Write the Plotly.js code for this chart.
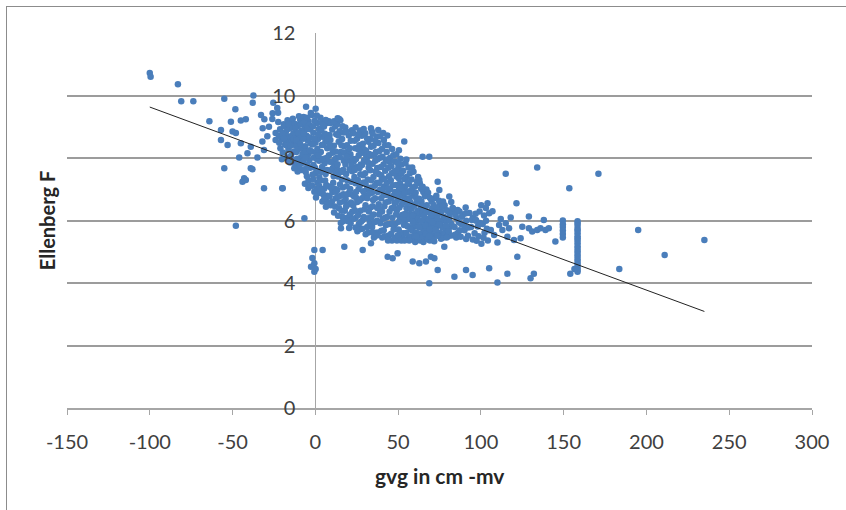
<!DOCTYPE html>
<html>
<head>
<meta charset="utf-8">
<script src="https://cdn.plot.ly/plotly-3.0.1.min.js"></script>
<style>
html,body{margin:0;padding:0;background:#fff;overflow:hidden;}
#wrap{position:relative;width:846px;height:510px;overflow:hidden;}
#chart{position:absolute;left:0;top:0;width:846px;height:510px;}
#frame{position:absolute;left:6px;top:6px;width:900px;height:600px;border-left:1.5px solid #8c8c8c;border-top:1.5px solid #8c8c8c;pointer-events:none;}
</style>
</head>
<body>
<div id="wrap"><div id="chart"></div><div id="frame"></div></div>
<script>
// ---- data ----
const xTickVals = [-150, -100, -50, 0, 50, 100, 150, 200, 250, 300];
const xTickText = ['-150', '-100', '-50', '0', '50', '100', '150', '200', '250', '300'];
const yTickVals = [0, 2, 4, 6, 8, 10, 12];
const yTickText = ['0', '2', '4', '6', '8', '10', '12'];
const xTitle = 'gvg in cm -mv';
const yTitle = 'Ellenberg F';

// [gvg, Ellenberg F]
const leftOutliers = [[-100,10.72],[-99.5,10.6],[-83,10.36],[-81,9.82],[-73.7,9.82],[-55,9.9],[-37.4,10.0],[-37.8,9.77],[-25.4,9.77],[-48.3,9.56],[-64,9.18],[-51,9.16],[-45,9.2],[-42,9.24],[-32.8,9.38],[-30.8,9.24],[-25.8,9.43],[-57,8.9],[-50,8.85],[-48,8.8],[-31.8,8.95],[-57,8.58],[-53,8.42],[-45,8.47],[-39,8.36],[-32,8.53],[-31,8.26],[-24,8.58],[-46,8.02],[-41,8.15],[-35,8.02],[-55,7.67],[-38,7.64],[-43,7.35],[-44,7.24],[-42,7.3],[-31,7.03],[-20,7.03],[-48,5.83],[-39,7.67],[-28,9.0],[-24,8.8],[-22.5,9.45],[-26,9.25],[-29,8.7],[-23,9.6]];

const coreCloud = [
[-21.3,8.92],[-19.1,9.08],[-20.4,8.61],[-18.2,8.43],[-22.0,8.71],[-19.6,8.18],[-17.8,8.83],[-21.1,8.31],[-18.6,9.02],[-20.2,7.96],[-22.4,9.15],[-17.9,8.55],
[-16.8,9.21],[-15.9,8.94],[-14.2,9.12],[-15.3,8.58],[-13.1,8.79],[-16.2,8.27],[-14.4,8.49],[-17.1,8.02],[-12.9,8.21],[-15.2,7.86],[-13.6,9.26],[-16.6,8.68],[-14.7,8.07],[-12.7,8.44],[-13.9,8.98],[-17.3,8.4],
[-12.2,9.09],[-11.1,8.77],[-9.2,9.23],[-10.3,8.52],[-8.1,8.88],[-11.4,8.19],[-9.3,7.99],[-12.1,7.81],[-8.2,7.62],[-10.1,7.91],[-9.6,8.66],[-11.7,8.39],[-8.6,8.31],[-10.7,9.02],[-7.8,8.13],[-12.4,8.58],[-9.9,9.34],
[-7.1,9.31],[-6.2,9.02],[-4.1,9.18],[-5.3,8.71],[-3.2,8.92],[-6.1,8.38],[-4.3,8.11],[-7.2,7.88],[-3.1,7.69],[-5.1,7.42],[-6.3,7.18],[-4.2,7.04],[-2.9,8.47],[-5.6,8.21],[-2.7,9.44],[-6.6,7.64],[-4.6,8.56],[-3.6,7.93],[-7.3,8.62],
[-2.1,9.38],[0.2,9.58],[1.1,9.12],[-1.2,8.81],[2.1,8.93],[0.1,8.49],[-2.2,8.21],[1.2,8.29],[2.3,7.91],[-1.1,7.78],[0.3,7.52],[1.3,7.21],[-1.9,7.11],[2.2,6.88],[0.4,6.74],[-0.8,8.02],[1.6,8.61],[-0.4,9.19],[2.4,7.38],[-1.6,7.47],[0.8,7.97],
[3.1,9.29],[5.2,9.01],[7.1,9.12],[4.2,8.68],[6.1,8.52],[3.3,8.19],[5.1,7.98],[7.2,8.31],[4.1,7.71],[6.2,7.49],[3.2,7.28],[5.3,7.02],[7.3,6.79],[4.3,6.61],[6.4,6.44],[5.6,7.83],[3.6,8.88],[6.6,7.14],[4.8,8.42],[7.0,7.62],
[8.1,9.18],[10.2,8.91],[12.1,9.02],[9.1,8.58],[11.2,8.39],[8.2,8.09],[10.1,7.88],[12.2,8.21],[9.2,7.61],[11.1,7.42],[8.3,7.09],[10.3,6.91],[12.3,6.71],[9.3,6.49],[11.3,6.26],[10.6,7.68],[8.6,8.74],[11.6,7.02],[9.8,8.33],[12.4,7.53],
[13.2,9.09],[15.1,9.21],[17.1,8.82],[14.1,8.52],[16.2,8.61],[13.1,8.01],[15.2,8.19],[17.2,7.91],[14.2,7.59],[16.1,7.31],[13.3,6.98],[15.3,6.79],[17.3,6.61],[14.3,6.39],[16.3,6.12],[15.4,5.92],[13.6,7.41],[16.6,7.06],[14.6,8.86],[12.9,7.72],[17.4,8.38],
[18.1,8.98],[20.2,8.72],[22.1,8.89],[19.1,8.41],[21.2,8.12],[18.2,7.79],[20.1,7.92],[22.2,7.58],[19.2,7.29],[21.1,7.01],[18.3,6.69],[20.3,6.52],[22.3,6.28],[19.3,6.09],[21.3,5.91],[20.4,5.76],[18.6,7.49],[21.6,6.84],[19.6,8.21],[22.4,7.98],[17.8,6.31],
[23.1,8.79],[25.2,8.62],[27.1,8.88],[24.1,8.31],[26.2,8.09],[23.2,7.89],[25.1,7.71],[27.2,7.48],[24.2,7.19],[26.1,7.01],[23.3,6.78],[25.3,6.59],[27.3,6.31],[24.3,6.08],[26.3,5.89],[25.4,5.66],[23.6,7.39],[26.6,8.41],[24.6,6.91],[27.4,7.79],[22.9,6.48],
[28.1,8.71],[30.2,8.79],[32.1,8.52],[29.1,8.29],[31.2,8.01],[28.2,7.78],[30.1,7.51],[32.2,7.69],[29.2,7.22],[31.1,6.99],[28.3,6.71],[30.3,6.49],[32.3,6.29],[29.3,6.11],[31.3,5.79],[30.4,5.56],[28.6,6.02],[31.6,7.31],[30.6,8.24],[32.4,7.02],[29.7,6.82],
[33.1,8.61],[35.2,8.39],[37.1,8.69],[34.1,8.09],[36.2,7.91],[33.2,7.61],[35.1,7.39],[37.2,7.21],[34.2,6.89],[36.1,6.71],[33.3,6.42],[35.3,6.19],[37.3,5.99],[34.3,5.79],[36.3,5.61],[35.4,5.46],[33.6,7.06],[36.6,8.19],[34.6,6.46],[37.4,7.68],[32.9,5.92],
[38.1,8.48],[40.2,8.29],[42.1,8.41],[39.1,8.01],[41.2,7.79],[38.2,7.49],[40.1,7.31],[42.2,7.59],[39.2,6.99],[41.1,6.81],[38.3,6.52],[40.3,6.29],[42.3,6.09],[39.3,5.91],[41.3,5.69],[40.4,5.46],[38.6,6.19],[41.6,7.09],[39.6,7.71],[42.4,6.58],[37.9,5.62],
[43.1,8.19],[45.2,8.01],[47.1,8.09],[44.1,7.69],[46.2,7.51],[43.2,7.21],[45.1,6.99],[47.2,6.79],[44.2,6.61],[46.1,6.39],[43.3,6.11],[45.3,5.89],[47.3,5.71],[44.3,5.52],[46.3,5.36],[45.6,7.29],[43.6,6.86],[46.6,6.09],[44.7,7.88],[47.4,6.42],
[48.1,7.89],[50.2,7.71],[52.1,7.79],[49.1,7.41],[51.2,7.19],[48.2,6.91],[50.1,6.69],[52.2,6.51],[49.2,6.31],[51.1,6.09],[48.3,5.89],[50.3,5.71],[52.3,5.49],[49.3,5.36],[51.3,5.61],[50.6,6.99],[48.6,6.58],[51.6,6.86],[49.8,7.58],[52.4,6.18],
[53.1,7.59],[55.2,7.39],[57.1,7.51],[54.1,7.09],[56.2,6.91],[53.2,6.61],[55.1,6.39],[57.2,6.21],[54.2,5.99],[56.1,5.81],[53.3,5.59],[55.3,5.41],[57.3,5.49],[54.6,6.71],[56.6,7.16],[53.6,5.86],[55.8,6.04],[57.4,6.58],
[58.1,7.31],[60.2,7.09],[62.1,7.39],[59.1,6.81],[61.2,6.59],[58.2,6.39],[60.1,6.21],[62.2,5.99],[59.2,5.79],[61.1,5.61],[58.3,5.41],[60.3,5.31],[62.3,5.52],[60.6,6.89],[59.6,6.02],[61.7,6.31],[58.7,5.68],
[63.1,7.19],[65.2,6.91],[67.1,6.99],[64.1,6.61],[66.2,6.41],[63.2,6.19],[65.1,5.99],[67.2,5.79],[64.2,5.59],[66.1,5.41],[63.3,5.36],[67.3,6.49],[65.6,5.69],[64.6,6.26],[66.7,6.05],[63.7,5.82],
[68.1,6.89],[70.2,6.61],[72.1,6.71],[69.1,6.29],[71.2,6.09],[68.2,5.89],[70.1,5.69],[72.2,5.51],[69.2,5.36],[71.1,5.79],[70.6,6.39],[68.6,6.05],[72.4,5.96],[69.7,5.58],
[73.1,6.79],[75.2,6.49],[77.1,6.61],[74.1,6.19],[76.2,5.99],[73.2,5.79],[75.1,5.61],[77.2,5.46],[74.3,5.51],[76.1,6.29],[75.6,5.86],[73.6,6.41],
[78.1,6.49],[80.2,6.29],[82.1,6.59],[79.1,5.99],[81.2,5.79],[78.2,5.61],[80.1,5.49],[82.2,5.89],[81.1,6.14],[79.6,5.72],
[83.1,6.39],[85.2,6.09],[87.1,6.29],[84.1,5.79],[86.2,5.61],[88.1,5.89],[85.1,5.46],[87.2,5.69],
[89.1,6.19],[91.2,5.99],[93.1,6.24],[90.1,5.69],[92.2,5.51],[94.1,5.79],[91.1,5.41],
[95.2,6.09],[97.1,5.99],[96.2,5.59],[98.1,5.81],[95.1,5.39],[99.2,6.29],
[100.2,6.49],[101.1,5.89],[102.2,5.61],[103.1,5.99],[104.2,5.36],[105.1,5.69],[100.3,5.26]
];

const coreCloudB = [
[-19.9,8.78],[-21.8,8.49],[-18.9,8.63],[-16.1,9.08],[-15.1,8.39],[-14.1,8.72],[-16.4,7.98],[-13.3,8.62],
[-11.9,8.96],[-10.1,8.81],[-8.9,9.08],[-11.3,8.58],[-9.1,8.45],[-10.6,8.27],[-8.4,7.83],[-11.2,7.97],[-9.8,7.72],
[-6.8,9.16],[-5.1,9.29],[-3.8,9.06],[-6.9,8.79],[-4.9,8.93],[-3.4,8.66],[-6.1,8.02],[-4.8,7.78],[-3.3,8.25],[-5.8,7.55],[-4.1,7.29],[-2.8,7.12],
[-1.4,9.02],[0.9,9.36],[1.8,8.76],[-0.7,8.62],[-1.8,8.43],[0.6,8.17],[1.9,8.09],[-0.2,7.69],[1.7,7.58],[-1.3,7.31],[0.7,7.01],[-0.6,6.92],[2.4,7.1],
[3.8,9.12],[6.3,9.22],[4.6,9.06],[5.8,8.78],[7.3,8.63],[3.9,8.42],[6.8,8.0],[4.4,7.96],[5.9,7.28],[3.6,7.55],[4.7,6.84],[6.9,6.6],[5.4,6.7],[3.5,6.98],
[9.1,9.12],[11.3,9.18],[12.6,8.76],[8.7,8.42],[10.4,8.17],[12.0,7.97],[11.8,7.78],[8.9,7.88],[10.8,7.21],[9.6,7.04],[12.1,6.92],[8.6,6.78],[10.1,6.61],[11.9,6.45],
[14.4,9.25],[16.4,9.02],[13.9,8.72],[15.8,8.41],[17.0,8.18],[14.8,8.03],[16.8,7.62],[13.4,7.8],[15.6,7.55],[14.9,7.15],[13.8,6.76],[16.9,6.84],[14.8,6.58],[15.9,6.31],[13.7,6.15],[16.8,5.98],
[18.9,8.84],[21.4,8.55],[20.8,8.31],[18.7,8.04],[21.9,7.78],[20.7,7.64],[18.9,7.1],[21.8,7.24],[20.6,6.91],[19.2,6.84],[21.6,6.58],[18.6,6.45],[20.9,6.19],[22.6,6.05],[19.8,5.98],
[24.3,8.98],[26.2,8.76],[23.7,8.55],[25.9,8.28],[27.6,8.16],[24.6,7.97],[26.7,7.68],[23.8,7.62],[25.7,7.3],[27.1,7.14],[24.8,6.72],[26.8,6.64],[23.9,6.33],[25.8,6.18],[27.6,5.96],[24.2,5.78],[26.9,5.72],
[29.2,8.93],[31.3,8.62],[28.7,8.46],[30.7,8.08],[32.6,8.13],[29.4,7.92],[31.8,7.86],[28.8,7.45],[30.4,7.17],[32.7,6.86],[28.9,6.94],[31.4,6.71],[29.8,6.36],[31.8,6.07],[28.6,5.74],[32.1,5.62],
[34.2,8.85],[36.1,8.57],[33.7,8.36],[35.8,8.11],[37.6,7.96],[34.6,7.82],[36.4,7.57],[33.8,7.29],[35.9,7.11],[37.7,6.91],[34.9,6.66],[37.4,6.4],[33.9,6.11],[36.0,5.95],[34.8,5.62],[37.1,5.52],
[39.2,8.7],[41.4,8.58],[38.6,8.22],[40.6,8.04],[42.6,7.92],[39.8,7.45],[41.8,7.34],[38.7,7.2],[40.7,6.98],[42.7,6.82],[39.7,6.71],[41.7,6.46],[38.9,6.35],[40.8,6.06],[42.6,5.86],[39.9,5.67],[41.9,5.5],
[44.1,8.41],[46.4,8.29],[43.7,7.95],[45.9,7.74],[47.6,7.55],[44.5,7.42],[46.8,7.13],[43.9,7.03],[45.7,6.72],[47.8,6.58],[44.8,6.28],[43.6,5.88],[46.9,5.9],[45.8,5.58],[47.8,5.45],[43.9,5.36],
[48.9,8.12],[51.4,7.98],[49.6,7.85],[48.7,7.6],[51.9,7.5],[50.4,7.35],[48.9,7.14],[51.8,7.04],[49.7,6.84],[52.7,6.79],[50.8,6.42],[48.8,6.19],[52.6,6.03],[50.4,5.96],[49.9,5.53],[51.9,5.36],
[54.4,7.83],[56.3,7.7],[53.8,7.33],[55.9,7.22],[57.6,6.95],[54.9,6.94],[56.9,6.71],[53.8,6.88],[55.6,6.55],[57.7,6.38],[54.7,6.22],[56.7,6.13],[53.7,6.2],[55.7,5.82],[57.6,5.71],[54.9,5.6],[56.7,5.36],[53.9,5.36],
[59.3,7.56],[61.4,7.25],[58.8,7.05],[60.9,6.72],[62.6,6.7],[59.9,6.49],[61.8,6.05],[58.6,6.15],[60.6,5.86],[62.6,5.78],[59.8,5.52],[61.6,5.38],[58.9,5.95],[60.9,5.5],
[63.9,7.02],[66.1,6.78],[64.8,6.48],[66.9,6.26],[63.7,6.43],[65.6,6.15],[63.8,5.99],[66.6,5.83],[64.7,5.45],[66.8,5.58],[65.3,5.31],[67.6,5.4],
[69.3,6.72],[71.5,6.5],[69.9,6.16],[72.6,6.25],[68.9,5.72],[70.9,5.95],[71.8,5.34],[70.4,5.41],[72.7,5.7],[68.7,5.5],
[74.7,6.63],[76.7,6.46],[73.9,6.05],[76.8,5.78],[74.8,5.88],[77.6,6.12],[75.9,5.42],[73.7,5.52],
[79.4,6.33],[80.9,6.02],[78.9,5.84],[82.7,6.28],[80.6,5.65],[82.4,5.52],[79.3,5.46],
[84.6,6.2],[86.6,5.95],[88.6,6.12],[84.7,5.55],[87.8,5.48],[89.7,5.85],[90.8,6.42],[92.6,5.78],
[94.6,6.02],[96.8,6.22],[98.6,5.5],[99.4,5.92],[97.4,5.35],[101.9,6.16],[103.6,5.74],[101.6,5.45]
];

const coreFringe = [[62.8,7.3],[64.8,7.08],[73.9,7.24],[74.9,6.98],[80.9,6.77],[82.9,6.4],[86,6.34],[91,6.23],[97,6.02],[103,6.4],[104,6.55],[105,6.23],[53.7,8.53],[64.8,8.04],[68.8,8.04],[33.6,8.95],[34.6,8.78],[13.5,9.27],[-5.6,9.64],[41,8.8],[43.5,8.72],[38,8.9],[50.5,8.25],[55,7.95],[58.5,7.7],[-19.7,7.03],[-10.7,7.57],[-12.7,7.67],[-6.6,6.07],[15.5,5.75],[17.5,5.16],[28.6,5.06],[33.6,5.27]];

const lowerScatter = [[-0.6,5.06],[4.4,5.06],[-1.8,4.8],[-0.6,4.63],[-2.6,4.52],[-0.6,4.36],[0.2,4.45],[43.7,4.84],[46.7,4.79],[49.7,4.95],[58.8,4.69],[62.8,4.63],[66.8,4.69],[69.8,4.84],[71.9,4.79],[73.9,4.42],[68.8,3.99],[77.9,5.16],[84,4.2],[91,4.42],[95,4.26],[105,4.47],[110,4.02],[116,4.3],[122,4.84],[130,4.15],[132,4.3],[154,4.3],[183.6,4.45],[211,4.9],[195,5.7],[235,5.38]];

const rightTail = [[115,7.5],[134,7.7],[171,7.5],[153.4,7.03],[121.5,6.55],[106,5.7],[108,5.54],[111,5.86],[113,5.7],[115,5.91],[116,5.48],[117,5.75],[120,5.38],[124,5.43],[125,5.8],[129,6.13],[129,5.75],[131,5.65],[134,5.7],[136,5.75],[138,6.02],[139,5.7],[141,5.75],[145,5.33],[149.5,6.0],[149.5,5.88],[149.5,5.79],[149.5,5.68],[149.5,5.57],[149.5,5.46],[110,5.3],[112,6.05],[118,6.1],[107,6.3]];

const column158 = [[158.4,5.98],[158.4,5.91],[158.4,5.83],[158.4,5.74],[158.4,5.68],[158.4,5.59],[158.4,5.5],[158.4,5.43],[158.4,5.36],[158.4,5.27],[158.4,5.18],[158.4,5.1],[158.4,5.02],[158.4,4.93],[158.4,4.85],[158.4,4.76],[158.4,4.68],[158.4,4.6],[158.4,4.5],[158.4,4.42],[158.4,4.36],[156.5,4.45]];

// linear trendline end points
const trendGvg = [-100, 235];
const trendF = [9.63, 3.09];

// ---- build ----
const allObs = [].concat(leftOutliers, coreCloud, coreCloudB, coreFringe, lowerScatter, rightTail, column158);
const obsX = allObs.map(p => p[0]);
const obsY = allObs.map(p => p[1]);

const FONT = 'Lato, Carlito, "Liberation Sans", sans-serif';

const traces = [
  {
    type: 'scatter', mode: 'markers', x: obsX, y: obsY,
    marker: {color: '#4a7ebb', size: 6.5, symbol: 'circle', line: {width: 0}},
    hoverinfo: 'x+y', showlegend: false
  },
  {
    type: 'scatter', mode: 'lines', x: trendGvg, y: trendF,
    line: {color: '#222222', width: 1}, hoverinfo: 'skip', showlegend: false
  }
];

const layout = {
  width: 846, height: 510,
  margin: {l: 67, r: 34, t: 33, b: 102},
  paper_bgcolor: '#ffffff', plot_bgcolor: '#ffffff',
  font: {family: FONT, color: '#404040'},
  showlegend: false,
  xaxis: {
    range: [-150, 300], tickmode: 'array', tickvals: xTickVals, ticktext: xTickText,
    showgrid: false, zeroline: true, zerolinecolor: '#a6a6a6', zerolinewidth: 1,
    showline: true, linecolor: '#a6a6a6', linewidth: 1.5,
    ticks: 'outside', ticklen: 5, tickcolor: '#a6a6a6', tickwidth: 1,
    ticklabelstandoff: 10,
    tickfont: {family: FONT, size: 20, color: '#404040'},
    fixedrange: true
  },
  yaxis: {
    range: [0, 12], tickmode: 'array', tickvals: yTickVals, ticktext: yTickText,
    anchor: 'free', position: 150 / 450,
    showgrid: true, gridcolor: '#9c9c9c', gridwidth: 2,
    zeroline: false, showline: false, ticks: '',
    ticklabelstandoff: 20,
    tickfont: {family: FONT, size: 20, color: '#404040'},
    fixedrange: true
  },
  annotations: [
    {text: '<b>' + yTitle + '</b>', xref: 'paper', yref: 'paper', x: -0.0272, y: 0.5,
     textangle: -90, showarrow: false, xanchor: 'center', yanchor: 'middle',
     font: {family: FONT, size: 20, color: '#262626'}},
    {text: '<b>' + xTitle + '</b>', xref: 'paper', yref: 'paper', x: 0.5, y: -0.1813,
     showarrow: false, xanchor: 'center', yanchor: 'middle',
     font: {family: FONT, size: 21, color: '#262626'}}
  ]
};

Plotly.newPlot('chart', traces, layout, {displayModeBar: false, staticPlot: true});
</script>
</body>
</html>
